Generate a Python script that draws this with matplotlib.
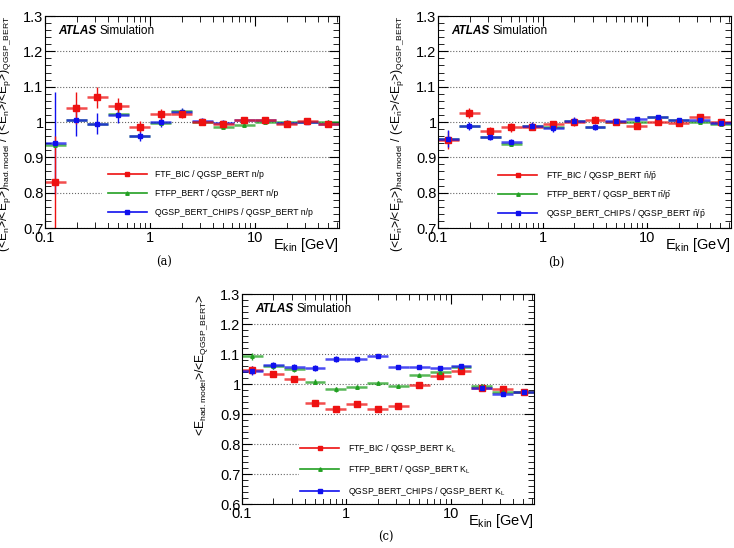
import matplotlib
matplotlib.use('Agg')
import matplotlib.pyplot as plt
from matplotlib.lines import Line2D
from matplotlib.ticker import MultipleLocator, LogLocator, NullFormatter, FixedLocator, FixedFormatter
import numpy as np

plt.rcParams['font.family'] = ['Liberation Sans', 'DejaVu Sans']
plt.rcParams['mathtext.fontset'] = 'custom'
plt.rcParams['mathtext.rm'] = 'Liberation Sans'
plt.rcParams['mathtext.it'] = 'Liberation Sans:italic'
plt.rcParams['mathtext.bf'] = 'Liberation Sans:bold'

# bin edges in kinetic energy [GeV]
bin_edges = [0.1, 0.158, 0.251, 0.398, 0.631, 1.0, 1.585, 2.512, 3.981,
             6.31, 10.0, 15.85, 25.12, 39.81, 63.1]

# (a) n/p
a_ftf = [0.83, 1.04, 1.07, 1.045, 0.987, 1.022, 1.022, 1.0, 0.993, 1.005, 1.005, 0.993, 1.002, 0.995]
a_ftf_err = [0.13, 0.045, 0.03, 0.022, 0.015, 0.015, 0.012, 0.008, 0.008, 0.008, 0.008, 0.006, 0.005, 0.005]
a_ftfp = [0.935, 1.005, 0.995, 1.023, 0.96, 0.998, 1.03, 1.0, 0.987, 0.992, 1.0, 1.0, 1.0, 1.0]
a_ftfp_err = [0.005, 0.005, 0.005, 0.005, 0.005, 0.004, 0.004, 0.004, 0.005, 0.005, 0.004, 0.004, 0.004, 0.005]
a_chips = [0.94, 1.005, 0.995, 1.02, 0.96, 1.0, 1.028, 1.002, 0.998, 1.005, 1.005, 0.997, 1.0, 0.995]
a_chips_err = [0.145, 0.045, 0.03, 0.022, 0.015, 0.015, 0.012, 0.008, 0.008, 0.008, 0.007, 0.006, 0.005, 0.008]

# (b) nbar/pbar
b_ftf = [0.95, 1.025, 0.975, 0.985, 0.987, 0.993, 1.0, 1.007, 1.0, 0.99, 1.0, 0.997, 1.015, 1.0]
b_ftf_err = [0.025, 0.015, 0.01, 0.012, 0.01, 0.01, 0.01, 0.01, 0.008, 0.008, 0.006, 0.006, 0.008, 0.008]
b_ftfp = [0.953, 0.988, 0.958, 0.937, 0.988, 0.985, 1.003, 0.985, 1.0, 1.0, 1.013, 1.005, 1.0, 0.995]
b_ftfp_err = [0.005, 0.005, 0.005, 0.005, 0.005, 0.004, 0.004, 0.004, 0.004, 0.004, 0.004, 0.004, 0.004, 0.004]
b_chips = [0.953, 0.988, 0.958, 0.942, 0.988, 0.982, 1.003, 0.985, 1.003, 1.008, 1.015, 1.007, 1.005, 0.997]
b_chips_err = [0.025, 0.012, 0.01, 0.01, 0.012, 0.01, 0.01, 0.008, 0.006, 0.006, 0.005, 0.005, 0.005, 0.005]

# (c) K_L
c_ftf = [1.048, 1.033, 1.017, 0.937, 0.917, 0.933, 0.917, 0.927, 0.998, 1.028, 1.045, 0.988, 0.985, 0.972]
c_ftf_err = [0.012, 0.01, 0.01, 0.008, 0.008, 0.006, 0.006, 0.005, 0.005, 0.005, 0.005, 0.005, 0.005, 0.005]
c_ftfp = [1.093, 1.06, 1.05, 1.008, 0.982, 0.99, 1.005, 0.993, 1.03, 1.04, 1.058, 0.995, 0.975, 0.975]
c_ftfp_err = [0.012, 0.01, 0.01, 0.008, 0.008, 0.006, 0.006, 0.005, 0.005, 0.005, 0.005, 0.005, 0.005, 0.005]
c_chips = [1.045, 1.062, 1.057, 1.055, 1.085, 1.083, 1.095, 1.057, 1.057, 1.052, 1.06, 0.988, 0.968, 0.972]
c_chips_err = [0.015, 0.012, 0.01, 0.01, 0.01, 0.008, 0.006, 0.005, 0.005, 0.005, 0.005, 0.005, 0.005, 0.005]

c_red = '#ee1111'
c_green = '#22a022'
c_blue = '#1010ee'

edges = np.array(bin_edges)
centers = np.sqrt(edges[:-1] * edges[1:])
xerr = [centers - edges[:-1], edges[1:] - centers]

fig = plt.figure(figsize=(7.34, 5.48), dpi=100)


def draw_series(ax, y, yerr, color, marker, ms):
    ax.errorbar(centers, y, xerr=xerr, fmt='none', ecolor=color, elinewidth=1.8,
                alpha=0.75, capsize=0)
    ax.errorbar(centers, y, yerr=yerr, fmt=marker, color=color, ms=ms,
                elinewidth=1.0, capsize=0, mec=color)


def setup(ax, ymin, ylabel, caption, caption_y, legend_suffix, series,
          leg_pad=0.65, leg_space=1.2):
    ax.set_xscale('log')
    ax.set_xlim(0.1, 63.1)
    ax.set_ylim(ymin, 1.3)
    yt = np.round(np.arange(ymin, 1.301, 0.1), 1)
    ax.set_yticks(yt)
    ax.set_yticklabels([('%g' % v) for v in yt])
    ax.yaxis.set_minor_locator(MultipleLocator(0.02))
    ax.xaxis.set_major_locator(FixedLocator([0.1, 1, 10]))
    ax.xaxis.set_major_formatter(FixedFormatter(['0.1', '1', '10']))
    ax.xaxis.set_minor_locator(LogLocator(base=10, subs=np.arange(2, 10)))
    ax.xaxis.set_minor_formatter(NullFormatter())
    ax.tick_params(which='both', direction='in', top=True, right=True, labelsize=10.5)
    ax.tick_params(which='major', length=7, pad=1)
    ax.tick_params(which='minor', length=4)
    ax.tick_params(axis='x', pad=2)
    ax.grid(axis='y', which='major', linestyle=':', color='#666666', lw=0.8)
    ax.set_axisbelow(True)

    for y, yerr, color, marker, ms in series:
        draw_series(ax, y, yerr, color, marker, ms)

    handles = [Line2D([], [], color=c_red, marker='s', ms=3.5, lw=1.2),
               Line2D([], [], color=c_green, marker='^', ms=2.5, lw=1.2),
               Line2D([], [], color=c_blue, marker='s', ms=2.3, lw=1.2)]
    labels = ['FTF_BIC / QGSP_BERT ' + legend_suffix,
              'FTFP_BERT / QGSP_BERT ' + legend_suffix,
              'QGSP_BERT_CHIPS / QGSP_BERT ' + legend_suffix]
    leg = ax.legend(handles, labels, loc='lower left',
                    bbox_to_anchor=(0.18, 0.003, 0.815, 0.3), mode='expand',
                    fontsize=6.2, handlelength=4.5, labelspacing=leg_space,
                    borderpad=leg_pad, handletextpad=1.0, frameon=True, fancybox=False)
    leg.get_frame().set_facecolor('white')
    leg.get_frame().set_edgecolor('none')
    leg.get_frame().set_alpha(1)

    ax.text(0.045, 0.93, 'ATLAS', transform=ax.transAxes, fontsize=8.5,
            fontweight='bold', style='italic', va='center')
    ax.text(0.185, 0.93, 'Simulation', transform=ax.transAxes, fontsize=8.5, va='center')
    ax.text(1.0, -0.08, r'E$_\mathrm{kin}$ [GeV]', transform=ax.transAxes,
            fontsize=10.5, ha='right', va='center')
    ax.set_ylabel(ylabel, fontsize=8.7, loc='top')
    ax.yaxis.set_label_coords(-0.11, 1.0)
    fig.text(caption[0], caption_y, caption[1], family='DejaVu Serif', fontsize=8.3,
             ha='center', va='center')


ax_a = fig.add_axes([45 / 734, 1 - 228 / 548, 294 / 734, 212 / 548])
ax_b = fig.add_axes([438 / 734, 1 - 228 / 548, 293 / 734, 212 / 548])
ax_c = fig.add_axes([242 / 734, 1 - 504 / 548, 292 / 734, 210 / 548])

ylab_a = (r'(<E$_\mathrm{n}$>/<E$_\mathrm{p}$>)$_\mathrm{had.model}$'
          r' / (<E$_\mathrm{n}$>/<E$_\mathrm{p}$>)$_\mathrm{QGSP\_BERT}$')
ylab_b = (r'(<E$_{\bar{\mathrm{n}}}$>/<E$_{\bar{\mathrm{p}}}$>)$_\mathrm{had.model}$'
          r' / (<E$_{\bar{\mathrm{n}}}$>/<E$_{\bar{\mathrm{p}}}$>)$_\mathrm{QGSP\_BERT}$')
ylab_c = r'<E$_\mathrm{had.model}$>/<E$_\mathrm{QGSP\_BERT}$>'

setup(ax_a, 0.7, ylab_a, (164 / 734, '(a)'), 1 - 262 / 548, 'n/p',
      [(a_ftfp, a_ftfp_err, c_green, '^', 2.5),
       (a_chips, a_chips_err, c_blue, 's', 2.5),
       (a_ftf, a_ftf_err, c_red, 's', 4)])
setup(ax_b, 0.7, ylab_b, (556 / 734, '(b)'), 1 - 262 / 548,
      r'$\bar{\mathrm{n}}/\bar{\mathrm{p}}$',
      [(b_ftfp, b_ftfp_err, c_green, '^', 2.5),
       (b_ftf, b_ftf_err, c_red, 's', 4),
       (b_chips, b_chips_err, c_blue, 's', 2.5)], leg_pad=0.4, leg_space=0.7)
setup(ax_c, 0.6, ylab_c, (386 / 734, '(c)'), 1 - 537 / 548, r'K$_\mathrm{L}$',
      [(c_ftf, c_ftf_err, c_red, 's', 4),
       (c_ftfp, c_ftfp_err, c_green, '^', 2.5),
       (c_chips, c_chips_err, c_blue, 's', 2.5)], leg_pad=0.15, leg_space=1.0)

fig.savefig('out.png', dpi=100, facecolor='white')
